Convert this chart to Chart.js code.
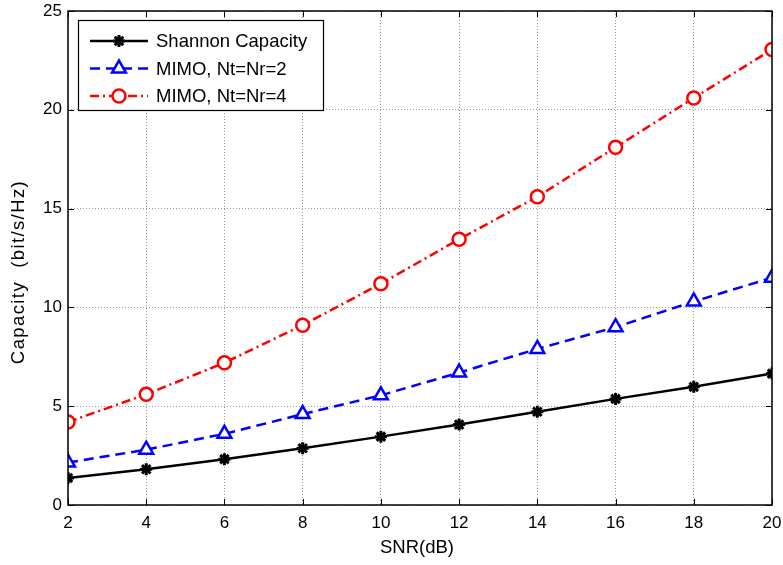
<!DOCTYPE html>
<html>
<head>
<meta charset="utf-8">
<script src="https://cdn.jsdelivr.net/npm/chart.js@4/dist/chart.umd.min.js"></script>
<style>
  html, body { margin: 0; padding: 0; background: #fff; }
  #wrap { width: 783px; height: 565px; }
</style>
</head>
<body>
<div id="wrap"><canvas id="capChart" width="783" height="565"></canvas></div>
<script>
const snr = [2, 4, 6, 8, 10, 12, 14, 16, 18, 20];
const shannon = [1.37, 1.81, 2.32, 2.87, 3.46, 4.07, 4.72, 5.37, 5.98, 6.65];
const mimo2 = [2.15, 2.8, 3.6, 4.6, 5.55, 6.7, 7.9, 9.0, 10.3, 11.5];
const mimo4 = [4.2, 5.6, 7.2, 9.1, 11.2, 13.45, 15.6, 18.1, 20.6, 23.05];
const seriesNames = ["Shannon Capacity", "MIMO, Nt=Nr=2", "MIMO, Nt=Nr=4"];
const xTitle = "SNR(dB)";
const yTitle = "Capacity  (bit/s/Hz)";

const FONT = "'Liberation Sans', Arial, sans-serif";

function pts(ys) {
  return snr.map((x, i) => ({ x: x, y: ys[i] }));
}

// frame, inner tick marks, axis titles and legend box, matlab style
const matlabFrame = {
  id: "matlabFrame",
  afterDraw(chart) {
    const ctx = chart.ctx;
    const a = chart.chartArea;
    const xs = chart.scales.x, ys = chart.scales.y;
    ctx.save();
    ctx.strokeStyle = "#000";
    ctx.lineWidth = 1;
    ctx.beginPath();
    xs.ticks.forEach(t => {
      const px = Math.round(xs.getPixelForValue(t.value)) + 0.5;
      ctx.moveTo(px, a.bottom); ctx.lineTo(px, a.bottom - 6);
      ctx.moveTo(px, a.top); ctx.lineTo(px, a.top + 6);
    });
    ys.ticks.forEach(t => {
      const py = Math.round(ys.getPixelForValue(t.value)) + 0.5;
      ctx.moveTo(a.left, py); ctx.lineTo(a.left + 6, py);
      ctx.moveTo(a.right, py); ctx.lineTo(a.right - 6, py);
    });
    ctx.stroke();
    ctx.lineWidth = 1.5;
    ctx.strokeRect(a.left, a.top, a.right - a.left, a.bottom - a.top);

    // axis titles
    ctx.fillStyle = "#000";
    ctx.font = "18.5px " + FONT;
    ctx.textAlign = "center";
    ctx.textBaseline = "middle";
    ctx.fillText(xTitle, (a.left + a.right) / 2 - 3, a.bottom + 43);
    ctx.save();
    ctx.translate(19, 272);
    ctx.rotate(-Math.PI / 2);
    if ("letterSpacing" in ctx) ctx.letterSpacing = "1.4px";
    ctx.fillText(yTitle, 0, 0);
    ctx.restore();

    // legend
    const lx = a.left + 10, ly = a.top + 9, lw = 245, lh = 90;
    ctx.fillStyle = "#fff";
    ctx.fillRect(lx, ly, lw, lh);
    ctx.lineWidth = 1.2;
    ctx.strokeStyle = "#000";
    ctx.strokeRect(lx + 0.5, ly + 0.5, lw, lh);
    chart.data.datasets.forEach((ds, i) => {
      const yy = ly + 21 + i * 27.5;
      ctx.save();
      ctx.strokeStyle = ds.borderColor;
      ctx.lineWidth = ds.borderWidth;
      ctx.setLineDash(ds.borderDash || []);
      ctx.beginPath();
      ctx.moveTo(lx + 12, yy); ctx.lineTo(lx + 70, yy);
      ctx.stroke();
      ctx.restore();
      ctx.save();
      ctx.strokeStyle = ds.pointBorderColor;
      ctx.fillStyle = ds.pointBackgroundColor;
      ctx.lineWidth = ds.pointBorderWidth;
      Chart.helpers.drawPoint(ctx, {
        pointStyle: ds.pointStyle,
        radius: ds.pointRadius,
        borderWidth: ds.pointBorderWidth
      }, lx + 41, yy);
      ctx.restore();
      ctx.fillStyle = "#000";
      ctx.font = "18.5px " + FONT;
      ctx.textAlign = "left";
      ctx.textBaseline = "middle";
      ctx.fillText(ds.label, lx + 78, yy + 1);
    });
    ctx.restore();
  }
};

new Chart(document.getElementById("capChart").getContext("2d"), {
  type: "line",
  data: {
    datasets: [
      {
        label: seriesNames[0],
        data: pts(shannon),
        borderColor: "#000",
        borderWidth: 2.5,
        pointStyle: "star",
        pointRadius: 6,
        pointBorderWidth: 3,
        pointBorderColor: "#000",
        pointBackgroundColor: "#000",
        tension: 0
      },
      {
        label: seriesNames[1],
        data: pts(mimo2),
        borderColor: "#0000ff",
        borderWidth: 2.5,
        borderDash: [10, 6],
        pointStyle: "triangle",
        pointRadius: 8,
        pointBorderWidth: 2.5,
        pointBorderColor: "#0000ff",
        pointBackgroundColor: "#fff",
        tension: 0
      },
      {
        label: seriesNames[2],
        data: pts(mimo4),
        borderColor: "#ff0000",
        borderWidth: 2.5,
        borderDash: [9, 4, 2, 4],
        pointStyle: "circle",
        pointRadius: 6.5,
        pointBorderWidth: 2.5,
        pointBorderColor: "#ff0000",
        pointBackgroundColor: "#fff",
        tension: 0
      }
    ]
  },
  options: {
    responsive: false,
    animation: false,
    layout: { padding: { top: 11, right: 11, left: 0, bottom: 0 } },
    plugins: {
      legend: { display: false },
      tooltip: { enabled: false }
    },
    scales: {
      x: {
        type: "linear",
        min: 2,
        max: 20,
        ticks: { stepSize: 2, color: "#000", font: { family: FONT, size: 17 }, padding: 8 },
        grid: { color: "#9a9a9a", lineWidth: 1, drawTicks: false },
        border: { display: false, dash: [1, 2] },
        afterFit: s => { s.height = 60; s.paddingLeft = 0; s.paddingRight = 0; }
      },
      y: {
        min: 0,
        max: 25,
        ticks: { stepSize: 5, color: "#000", font: { family: FONT, size: 17 }, padding: 6 },
        grid: { color: "#9a9a9a", lineWidth: 1, drawTicks: false },
        border: { display: false, dash: [1, 2] },
        afterFit: s => { s.width = 68; s.paddingTop = 0; s.paddingBottom = 0; }
      }
    }
  },
  plugins: [matlabFrame]
});
</script>
</body>
</html>
